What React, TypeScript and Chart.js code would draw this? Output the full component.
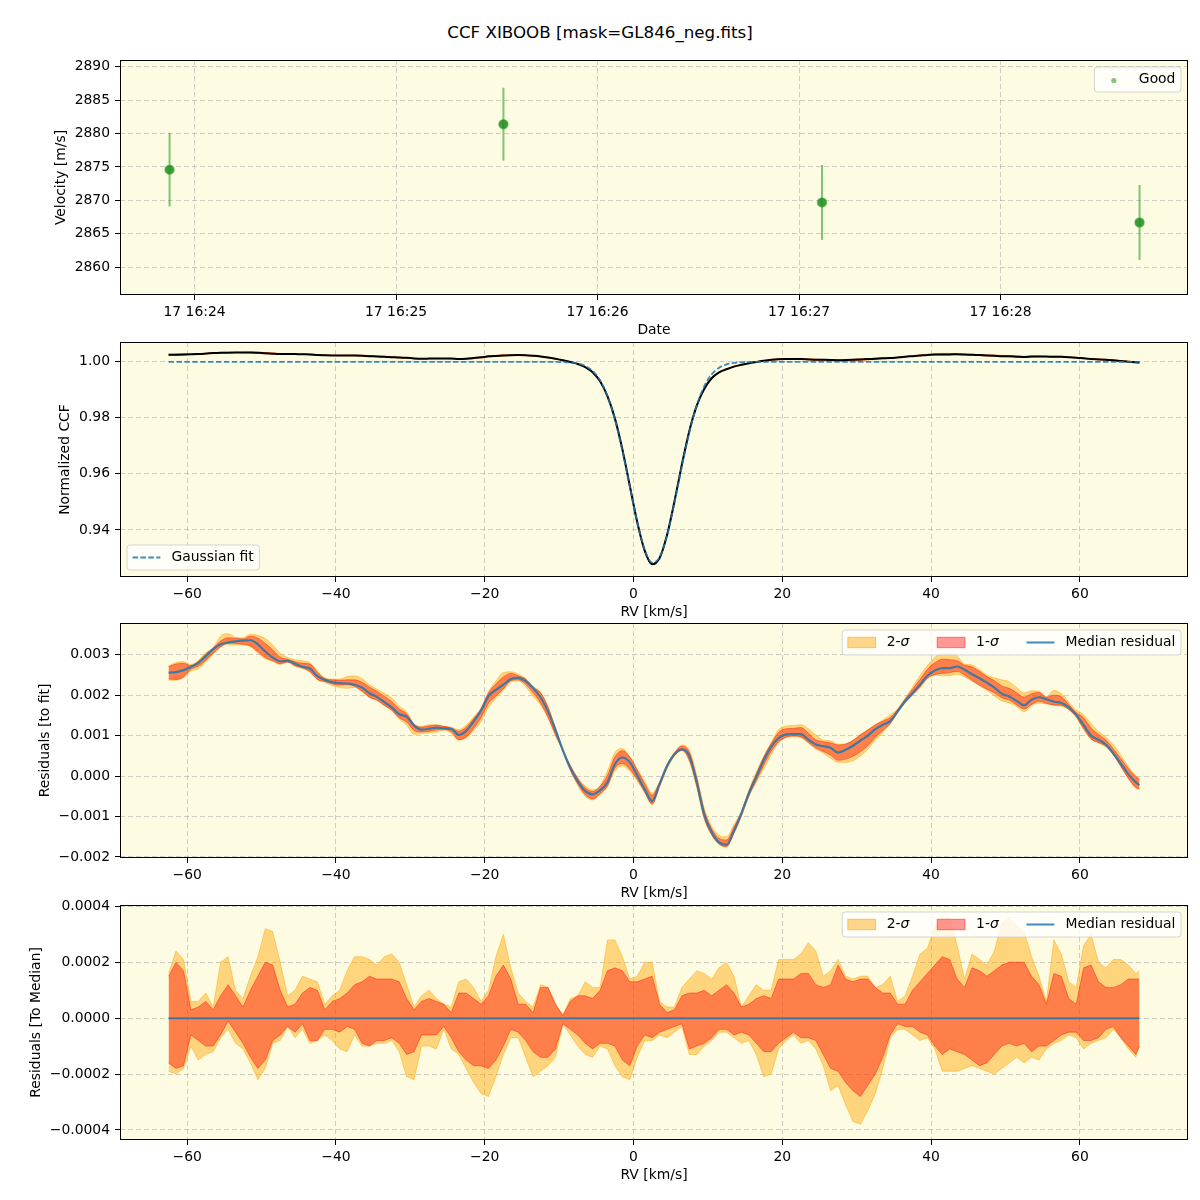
import React, { useEffect, useRef } from "react";
import { Chart, registerables } from "chart.js";

Chart.register(...registerables);

const FONT = "'DejaVu Sans', 'Liberation Sans', sans-serif";
const FS = 13.9;
Chart.defaults.font.family = FONT;
Chart.defaults.color = "#000";

// ---------- Panel 1: velocities ----------
const obsTimes = [23.876, 25.533, 27.114, 28.69]; // minutes after 16:00 on day 17
const obsVel = [2874.6, 2881.4, 2869.7, 2866.7];
const obsErr = [5.5, 5.45, 5.6, 5.6];
const timeTicks = [24, 25, 26, 27, 28];
const velTicks = [2860, 2865, 2870, 2875, 2880, 2885, 2890];

// ---------- RV grid ----------
const rv = [
  -62.5, -61.5, -60.5, -59.5, -58.5, -57.5, -56.5, -55.5, -54.5, -53.5,
  -52.5, -51.5, -50.5, -49.5, -48.5, -47.5, -46.5, -45.5, -44.5, -43.5,
  -42.5, -41.5, -40.5, -39.5, -38.5, -37.5, -36.5, -35.5, -34.5, -33.5,
  -32.5, -31.5, -30.5, -29.5, -28.5, -27.5, -26.5, -25.5, -24.5, -23.5,
  -22.5, -21.5, -20.5, -19.5, -18.5, -17.5, -16.5, -15.5, -14.5, -13.5,
  -12.5, -11.5, -10.5, -9.5, -8.5, -7.5, -6.5, -5.5, -4.5, -3.5,
  -2.5, -1.5, -0.5, 0.5, 1.5, 2.5, 3.5, 4.5, 5.5, 6.5,
  7.5, 8.5, 9.5, 10.5, 11.5, 12.5, 13.5, 14.5, 15.5, 16.5,
  17.5, 18.5, 19.5, 20.5, 21.5, 22.5, 23.5, 24.5, 25.5, 26.5,
  27.5, 28.5, 29.5, 30.5, 31.5, 32.5, 33.5, 34.5, 35.5, 36.5,
  37.5, 38.5, 39.5, 40.5, 41.5, 42.5, 43.5, 44.5, 45.5, 46.5,
  47.5, 48.5, 49.5, 50.5, 51.5, 52.5, 53.5, 54.5, 55.5, 56.5,
  57.5, 58.5, 59.5, 60.5, 61.5, 62.5, 63.5, 64.5, 65.5, 66.5,
  67.5, 68,
];

// Gaussian fit of the CCF
const gaussFit = [
  0.99975, 0.99975, 0.99975, 0.99975, 0.99975, 0.99975, 0.99975, 0.99975, 0.99975, 0.99975,
  0.99975, 0.99975, 0.99975, 0.99975, 0.99975, 0.99975, 0.99975, 0.99975, 0.99975, 0.99975,
  0.99975, 0.99975, 0.99975, 0.99975, 0.99975, 0.99975, 0.99975, 0.99975, 0.99975, 0.99975,
  0.99975, 0.99975, 0.99975, 0.99975, 0.99975, 0.99975, 0.99975, 0.99975, 0.99975, 0.99975,
  0.99975, 0.99975, 0.99975, 0.99975, 0.99975, 0.99975, 0.99975, 0.99975, 0.99975, 0.99975,
  0.99975, 0.99974, 0.99973, 0.99968, 0.99953, 0.99916, 0.99831, 0.99654, 0.99321, 0.98764,
  0.97929, 0.96819, 0.95533, 0.94273, 0.93297, 0.92841, 0.93022, 0.93793, 0.94961, 0.96264,
  0.9747, 0.98433, 0.99109, 0.99531, 0.99767, 0.99886, 0.99941, 0.99963, 0.99971, 0.99974,
  0.99975, 0.99975, 0.99975, 0.99975, 0.99975, 0.99975, 0.99975, 0.99975, 0.99975, 0.99975,
  0.99975, 0.99975, 0.99975, 0.99975, 0.99975, 0.99975, 0.99975, 0.99975, 0.99975, 0.99975,
  0.99975, 0.99975, 0.99975, 0.99975, 0.99975, 0.99975, 0.99975, 0.99975, 0.99975, 0.99975,
  0.99975, 0.99975, 0.99975, 0.99975, 0.99975, 0.99975, 0.99975, 0.99975, 0.99975, 0.99975,
  0.99975, 0.99975, 0.99975, 0.99975, 0.99975, 0.99975, 0.99975, 0.99975, 0.99975, 0.99975,
  0.99975, 0.99975,
];

// Median residual (CCF - fit)
const medianResid = [
  0.00256, 0.00257, 0.00262, 0.0027, 0.0028, 0.00296, 0.00314, 0.00326, 0.0033, 0.00333,
  0.00335, 0.00336, 0.00326, 0.00308, 0.00293, 0.00284, 0.00285, 0.00278, 0.0027, 0.00266,
  0.00247, 0.00238, 0.00232, 0.0023, 0.00229, 0.00226, 0.00219, 0.00205, 0.00196, 0.00183,
  0.0017, 0.00153, 0.00147, 0.00125, 0.00115, 0.00117, 0.0012, 0.00118, 0.00117, 0.00102,
  0.00112, 0.00135, 0.00162, 0.00198, 0.00213, 0.00226, 0.0024, 0.00243, 0.00235, 0.00218,
  0.00195, 0.0016, 0.00114, 0.00064, 0.0002, -0.00013, -0.00037, -0.00045, -0.00035, -0.00015,
  0.0003, 0.00046, 0.00034, 0.00002, -0.00033, -0.00062, -0.0002, 0.00025, 0.00054, 0.00066,
  0.0005, -0.00015, -0.00095, -0.00138, -0.00164, -0.0017, -0.00135, -0.00092, -0.00043, -0.00002,
  0.00039, 0.00073, 0.00094, 0.00103, 0.00104, 0.00104, 0.0009, 0.00078, 0.00074, 0.0007,
  0.00058, 0.00065, 0.00075, 0.00088, 0.001, 0.00116, 0.00127, 0.00136, 0.0016, 0.00185,
  0.00205, 0.00226, 0.00248, 0.00261, 0.00267, 0.00267, 0.00271, 0.00263, 0.00252, 0.00242,
  0.00231, 0.00219, 0.00204, 0.00197, 0.00186, 0.00175, 0.00189, 0.00195, 0.0019, 0.00184,
  0.00181, 0.0017, 0.00152, 0.00126, 0.001, 0.0009, 0.00078, 0.00056, 0.00031, 0.00005,
  -0.00015, -0.00022,
];

// Spread around the median (residual to median)
const sig2Hi = [
  0.00016, 0.00024, 0.00021, 0.00006, 0.00006, 0.00009, 0.00004, 0.0002, 0.00022, 0.0001,
  0.00007, 0.00015, 0.00022, 0.00032, 0.00031, 0.0002, 0.00008, 0.0001, 0.00015, 0.00014,
  0.00013, 0.00005, 0.00008, 0.0001, 0.00017, 0.00022, 0.00022, 0.00021, 0.00019, 0.00022,
  0.00023, 0.0002, 0.00012, 0.00004, 0.00008, 0.0001, 0.00007, 0.00005, 0.00004, 0.00013,
  0.00014, 0.00011, 0.00006, 0.0001, 0.00022, 0.0003, 0.00018, 0.00009, 0.00006, 0.00004,
  0.00012, 0.00011, 0.00005, 0.00001, 0.00007, 0.00008, 0.00013, 0.00011, 0.00011, 0.00028,
  0.00028, 0.00022, 0.00014, 0.00015, 0.0002, 0.0002, 0.00006, 0.00004, 0.00004, 0.00011,
  0.00014, 0.00017, 0.00016, 0.00014, 0.00018, 0.0002, 0.00015, 0.00004, 0.00008, 0.00012,
  0.0001, 0.0001, 0.00021, 0.00021, 0.00021, 0.00023, 0.00027, 0.00024, 0.00015, 0.00017,
  0.00021, 0.00015, 0.00014, 0.00015, 0.00015, 0.00011, 0.00012, 0.00015, 0.00006, 0.00008,
  0.00015, 0.00023, 0.00025, 0.00033, 0.00036, 0.00036, 0.00026, 0.00014, 0.00023, 0.00021,
  0.00019, 0.00024, 0.00034, 0.00036, 0.00033, 0.00031, 0.00022, 0.00015, 0.00006, 0.00028,
  0.00023, 0.00013, 0.00011, 0.00026, 0.0003, 0.0002, 0.00018, 0.00021, 0.00021, 0.00019,
  0.00016, 0.00017,
];
const sig1Hi = [
  0.00015, 0.0002, 0.00017, 0.00003, 0.00004, 0.00006, 0.00003, 0.00008, 0.00012, 0.00008,
  0.00004, 0.0001, 0.00015, 0.0002, 0.00019, 0.0001, 0.00004, 0.00005, 0.00009, 0.00011,
  0.0001, 0.00003, 0.00006, 0.00007, 0.00009, 0.00012, 0.00013, 0.00015, 0.00014, 0.00014,
  0.00014, 0.00013, 0.00007, 0.00003, 0.00006, 0.00007, 0.00006, 0.00005, 0.00002, 0.00009,
  0.00009, 0.00007, 0.00005, 0.00008, 0.00015, 0.00019, 0.00014, 0.00005, 0.00005, 0.00002,
  0.00011, 0.00011, 0.00005, 0.00001, 0.00006, 0.00008, 0.00008, 0.00007, 0.0001, 0.00017,
  0.00018, 0.00017, 0.00013, 0.00013, 0.00014, 0.00015, 0.00005, 0.00002, 0.00003, 0.00008,
  0.00009, 0.00009, 0.0001, 0.00008, 0.0001, 0.00012, 0.00009, 0.00004, 0.00005, 0.00007,
  0.00008, 0.00007, 0.00014, 0.00014, 0.00014, 0.00016, 0.00016, 0.00012, 0.00011, 0.00012,
  0.00019, 0.00014, 0.00013, 0.00014, 0.00014, 0.00011, 0.00009, 0.00009, 0.00005, 0.00005,
  0.0001, 0.00013, 0.00016, 0.00019, 0.00022, 0.00021, 0.00014, 0.00011, 0.00018, 0.00017,
  0.00015, 0.00017, 0.00019, 0.0002, 0.0002, 0.0002, 0.00015, 0.00012, 0.00005, 0.00016,
  0.00015, 0.00007, 0.00005, 0.00018, 0.00019, 0.00013, 0.00011, 0.00011, 0.00012, 0.00014,
  0.00014, 0.00014,
];
const sig1Lo = [
  -0.00016, -0.00018, -0.00017, -0.00006, -0.00008, -0.0001, -0.0001, -0.00006, -0.00001, -0.00005,
  -0.00009, -0.00014, -0.00018, -0.00015, -0.00008, -0.00006, -0.00003, -0.00005, -0.00002, -0.00008,
  -0.00008, -0.00004, -0.00004, -0.00005, -0.00003, -0.00004, -0.00009, -0.0001, -0.00008, -0.00008,
  -0.00007, -0.00009, -0.00013, -0.00012, -0.00006, -0.00006, -0.00006, -0.00003, -0.00007, -0.00012,
  -0.00015, -0.00017, -0.00017, -0.00018, -0.00015, -0.0001, -0.00004, -0.00005, -0.00008, -0.00012,
  -0.00014, -0.00014, -0.00011, -0.00002, -0.00004, -0.00006, -0.00009, -0.00011, -0.00009, -0.00009,
  -0.0001, -0.00015, -0.00017, -0.0001, -0.00006, -0.00007, -0.00005, -0.00004, -0.00003, -0.00002,
  -0.00011, -0.0001, -0.00009, -0.00007, -0.00004, -0.00004, -0.00006, -0.00005, -0.00006, -0.00009,
  -0.00012, -0.00012, -0.00009, -0.00007, -0.00005, -0.00007, -0.00007, -0.00008, -0.00013, -0.00018,
  -0.00019, -0.00023, -0.00026, -0.00028, -0.00024, -0.0002, -0.00014, -0.00006, -0.00002, -0.00003,
  -0.00003, -0.00005, -0.00006, -0.0001, -0.00013, -0.00011, -0.00012, -0.00013, -0.00015, -0.00017,
  -0.00016, -0.00013, -0.0001, -0.00009, -0.0001, -0.00009, -0.00012, -0.0001, -0.0001, -0.00008,
  -0.00006, -0.00005, -0.00005, -0.00008, -0.00008, -0.00007, -0.00004, -0.00003, -0.00007, -0.0001,
  -0.00013, -0.0001,
];
const sig2Lo = [
  -0.00019, -0.0002, -0.00018, -0.0001, -0.00015, -0.00013, -0.00012, -0.00007, -0.00004, -0.00009,
  -0.00011, -0.00016, -0.00022, -0.00018, -0.00009, -0.00008, -0.00003, -0.00007, -0.00004, -0.00009,
  -0.00008, -0.00006, -0.00008, -0.00011, -0.00012, -0.00006, -0.0001, -0.0001, -0.00009, -0.00009,
  -0.00008, -0.00012, -0.00021, -0.00022, -0.0001, -0.0001, -0.00011, -0.00004, -0.00011, -0.00013,
  -0.00018, -0.00023, -0.00027, -0.00028, -0.00021, -0.00013, -0.00007, -0.00007, -0.00014, -0.00021,
  -0.00019, -0.00017, -0.00014, -0.00002, -0.00006, -0.0001, -0.00013, -0.00014, -0.0001, -0.00011,
  -0.00017, -0.00021, -0.00022, -0.00014, -0.00008, -0.00008, -0.00006, -0.00007, -0.00005, -0.00003,
  -0.00013, -0.00013, -0.0001, -0.00008, -0.00005, -0.00005, -0.00007, -0.00009, -0.00008, -0.00013,
  -0.00021, -0.0002, -0.00011, -0.00008, -0.00006, -0.00009, -0.00008, -0.00011, -0.00017, -0.00026,
  -0.00024, -0.00031, -0.00037, -0.00038, -0.00033, -0.00027, -0.00018, -0.00007, -0.00004, -0.00004,
  -0.00006, -0.00008, -0.00007, -0.00011, -0.00019, -0.00019, -0.00019, -0.00018, -0.00017, -0.00018,
  -0.00019, -0.0002, -0.00018, -0.00016, -0.00014, -0.00016, -0.00014, -0.00015, -0.00011, -0.00009,
  -0.00008, -0.00006, -0.00007, -0.00011, -0.00009, -0.00008, -0.00007, -0.00004, -0.00007, -0.00011,
  -0.00014, -0.0001,
];

const rvTicks = [-60, -40, -20, 0, 20, 40, 60];
const ccfTicks = [0.94, 0.96, 0.98, 1.0];
const resTicks = [-0.002, -0.001, 0, 0.001, 0.002, 0.003];
const medTicks = [-0.0004, -0.0002, 0, 0.0002, 0.0004];

// ---------- styles ----------
const BG = "#fdfbe2";
const GRID = "rgba(150,150,150,0.45)";
const ORANGE = "rgba(255,165,0,0.45)";
const RED = "rgba(255,0,0,0.4)";
const BLUE = "rgba(31,119,180,0.85)";
const ERR_GREEN = "rgba(44,160,44,0.6)";

const minus = (s: string) => s.replace("-", "\u2212");

const titleFont = { family: FONT, size: FS, lineHeight: 1.2 };
const tickFont = { family: FONT, size: FS, lineHeight: "16px" };
const TOP_PAD = 13; // tick label half height (8) + tick padding (5)

function mkY(min: number, max: number, ticks: number[], fmt: (v: number) => string, title: string, titleCenterX: number) {
  return {
    type: "linear",
    position: "left",
    min,
    max,
    afterBuildTicks: (s: any) => {
      s.ticks = ticks.map((v) => ({ value: v }));
    },
    afterFit: (s: any) => {
      s.width = 120;
    },
    ticks: { callback: (v: any) => minus(fmt(Number(v))), font: tickFont, color: "#000", padding: 5 },
    grid: { color: GRID, lineWidth: 1, tickLength: 5, tickColor: "#000", tickWidth: 1, drawTicks: true },
    border: { display: false, dash: [5, 3] },
    title: {
      display: true,
      text: title,
      color: "#000",
      font: titleFont,
      padding: { top: titleCenterX - (FS * 1.2) / 2, bottom: 0 },
    },
  };
}

function mkX(min: number, max: number, ticks: number[], fmt: (v: number) => string, title: string) {
  return {
    type: "linear",
    position: "bottom",
    min,
    max,
    afterBuildTicks: (s: any) => {
      s.ticks = ticks.map((v) => ({ value: v }));
    },
    afterFit: (s: any) => {
      s.height = 45;
    },
    ticks: {
      callback: (v: any) => minus(fmt(Number(v))),
      font: tickFont,
      color: "#000",
      padding: 4,
      maxRotation: 0,
      autoSkip: false,
    },
    grid: { color: GRID, lineWidth: 1, tickLength: 5, tickColor: "#000", tickWidth: 1, drawTicks: true },
    border: { display: false, dash: [5, 3] },
    title: {
      display: true,
      text: title,
      color: "#000",
      font: titleFont,
      padding: { top: 0, bottom: 10 - (FS * 1.2) / 2 },
    },
  };
}

const bgFrame = {
  id: "bgFrame",
  beforeDraw(chart: any) {
    const { ctx, chartArea: a } = chart;
    ctx.save();
    ctx.fillStyle = BG;
    ctx.fillRect(a.left, a.top, a.right - a.left, a.bottom - a.top);
    ctx.restore();
  },
  afterDraw(chart: any) {
    const { ctx, chartArea: a } = chart;
    ctx.save();
    ctx.strokeStyle = "#000";
    ctx.lineWidth = 1;
    const l = Math.round(a.left) + 0.5;
    const t = Math.round(a.top) + 0.5;
    const r = Math.round(a.right) - 0.5;
    const b = Math.round(a.bottom) - 0.5;
    ctx.strokeRect(l, t, r - l, b - t);
    ctx.restore();
  },
};

type LegItem = { kind: "patch" | "line" | "dash" | "dot"; color: string; edge?: string; label: string; sigma?: boolean };

function makeLegend(items: LegItem[], anchor: "ur" | "ll") {
  return {
    id: "mplLegend",
    afterDraw(chart: any) {
      const { ctx, chartArea: a } = chart;
      const pad = 0.4 * FS;
      const hl = 2 * FS;
      const htp = 0.8 * FS;
      const cs = 2 * FS;
      const normal = `${FS}px ${FONT}`;
      const italic = `italic ${FS}px ${FONT}`;
      const widths = items.map((it) => {
        ctx.font = normal;
        let w = ctx.measureText(it.label).width;
        if (it.sigma) {
          ctx.font = italic;
          w += ctx.measureText("\u03c3").width;
        }
        return w;
      });
      let W = 2 * pad;
      widths.forEach((w, i) => {
        W += hl + htp + w + (i > 0 ? cs : 0);
      });
      const H = 25;
      const x0 = anchor === "ur" ? a.right - 7 - W : a.left + 7;
      const y0 = anchor === "ur" ? a.top + 7 : a.bottom - 7 - H;
      ctx.save();
      const r = 3;
      ctx.beginPath();
      ctx.moveTo(x0 + r, y0);
      ctx.lineTo(x0 + W - r, y0);
      ctx.quadraticCurveTo(x0 + W, y0, x0 + W, y0 + r);
      ctx.lineTo(x0 + W, y0 + H - r);
      ctx.quadraticCurveTo(x0 + W, y0 + H, x0 + W - r, y0 + H);
      ctx.lineTo(x0 + r, y0 + H);
      ctx.quadraticCurveTo(x0, y0 + H, x0, y0 + H - r);
      ctx.lineTo(x0, y0 + r);
      ctx.quadraticCurveTo(x0, y0, x0 + r, y0);
      ctx.closePath();
      ctx.fillStyle = "rgba(255,255,255,0.8)";
      ctx.fill();
      ctx.strokeStyle = "rgba(204,204,204,0.8)";
      ctx.lineWidth = 1;
      ctx.stroke();
      let cx = x0 + pad;
      const cy = y0 + H / 2;
      items.forEach((it, i) => {
        if (i > 0) cx += cs;
        if (it.kind === "patch") {
          ctx.fillStyle = it.color;
          ctx.fillRect(cx, cy - 5.2, hl, 10.4);
          ctx.strokeStyle = it.edge || it.color;
          ctx.lineWidth = 1;
          ctx.strokeRect(cx, cy - 5.2, hl, 10.4);
        } else if (it.kind === "line" || it.kind === "dash") {
          ctx.strokeStyle = it.color;
          ctx.lineWidth = it.kind === "line" ? 2 : 1.8;
          ctx.setLineDash(it.kind === "dash" ? [5.5, 2.4] : []);
          ctx.beginPath();
          ctx.moveTo(cx, cy);
          ctx.lineTo(cx + hl, cy);
          ctx.stroke();
          ctx.setLineDash([]);
        } else {
          ctx.fillStyle = it.color;
          ctx.beginPath();
          ctx.arc(cx + hl / 2, cy + 1, 2.6, 0, Math.PI * 2);
          ctx.fill();
        }
        let tx = cx + hl + htp;
        ctx.fillStyle = "#000";
        ctx.textBaseline = "middle";
        ctx.textAlign = "left";
        ctx.font = normal;
        ctx.fillText(it.label, tx, cy);
        if (it.sigma) {
          tx += ctx.measureText(it.label).width;
          ctx.font = italic;
          ctx.fillText("\u03c3", tx, cy);
        }
        cx += hl + htp + widths[i];
      });
      ctx.restore();
    },
  };
}

function baseOptions() {
  return {
    responsive: false,
    animation: false,
    devicePixelRatio: 1,
    layout: { padding: { left: 0, right: 12, top: 0, bottom: 0 } },
    elements: { point: { radius: 0, hoverRadius: 0 }, line: { tension: 0 } },
  };
}

const noPlug = { legend: { display: false }, tooltip: { enabled: false } };

function bandSets(base: number[], smooth: boolean) {
  const mk = (arr: number[]) => rv.map((x, i) => ({ x, y: base[i] + arr[i] }));
  const interp = smooth ? { cubicInterpolationMode: "monotone" } : {};
  return [
    { data: mk(sig2Hi), borderColor: ORANGE, backgroundColor: ORANGE, borderWidth: 1, pointRadius: 0, fill: "+1", order: 10, ...interp },
    { data: mk(sig2Lo), borderColor: ORANGE, backgroundColor: ORANGE, borderWidth: 1, pointRadius: 0, fill: false, order: 10, ...interp },
    { data: mk(sig1Hi), borderColor: RED, backgroundColor: RED, borderWidth: 1, pointRadius: 0, fill: "+1", order: 9, ...interp },
    { data: mk(sig1Lo), borderColor: RED, backgroundColor: RED, borderWidth: 1, pointRadius: 0, fill: false, order: 9, ...interp },
  ];
}

const sigmaLegend: LegItem[] = [
  { kind: "patch", color: ORANGE, edge: "rgba(255,165,0,0.6)", label: "2-", sigma: true },
  { kind: "patch", color: RED, edge: "rgba(255,0,0,0.45)", label: "1-", sigma: true },
  { kind: "line", color: BLUE, label: "Median residual" },
];

function config1(): any {
  return {
    type: "line",
    data: {
      datasets: [
        ...obsTimes.map((t, i) => ({
          data: [
            { x: t, y: obsVel[i] - obsErr[i] },
            { x: t, y: obsVel[i] + obsErr[i] },
          ],
          borderColor: ERR_GREEN,
          borderWidth: 2,
          pointRadius: 0,
          fill: false,
          order: 5,
        })),
        {
          data: obsTimes.map((t, i) => ({ x: t, y: obsVel[i] })),
          showLine: false,
          pointRadius: 4.5,
          pointHoverRadius: 4.5,
          pointBackgroundColor: "rgba(30,140,30,0.85)",
          pointBorderColor: "rgba(44,160,44,0.55)",
          pointBorderWidth: 1.5,
          order: 1,
        },
      ],
    },
    options: {
      ...baseOptions(),
      plugins: noPlug,
      scales: {
        x: mkX(23.63, 28.9305, timeTicks, (v) => `17 16:${v}`, "Date"),
        y: mkY(2855.85, 2891.0, velTicks, (v) => String(v), "Velocity [m/s]", 61),
      },
    },
    plugins: [bgFrame, makeLegend([{ kind: "dot", color: ERR_GREEN, label: "Good" }], "ur")],
  };
}

function config2(): any {
  const ccfBase = rv.map((_, i) => gaussFit[i] + medianResid[i]);
  return {
    type: "line",
    data: {
      datasets: [
        ...bandSets(ccfBase, true),
        {
          data: rv.map((x, i) => ({ x, y: ccfBase[i] })),
          borderColor: "#000",
          borderWidth: 2,
          pointRadius: 0,
          fill: false,
          order: 2,
          cubicInterpolationMode: "monotone",
        },
        {
          data: rv.map((x, i) => ({ x, y: gaussFit[i] })),
          borderColor: BLUE,
          borderWidth: 1.8,
          borderDash: [5.5, 2.4],
          pointRadius: 0,
          fill: false,
          order: 1,
          cubicInterpolationMode: "monotone",
        },
      ],
    },
    options: {
      ...baseOptions(),
      plugins: noPlug,
      scales: {
        x: mkX(-69.03, 74.53, rvTicks, (v) => String(v), "RV [km/s]"),
        y: mkY(0.92327, 1.00683, ccfTicks, (v) => v.toFixed(2), "Normalized CCF", 65.5),
      },
    },
    plugins: [bgFrame, makeLegend([{ kind: "dash", color: BLUE, label: "Gaussian fit" }], "ll")],
  };
}

function config3(): any {
  return {
    type: "line",
    data: {
      datasets: [
        ...bandSets(medianResid, true),
        {
          data: rv.map((x, i) => ({ x, y: medianResid[i] })),
          borderColor: BLUE,
          borderWidth: 2.2,
          pointRadius: 0,
          fill: false,
          order: 1,
          cubicInterpolationMode: "monotone",
        },
      ],
    },
    options: {
      ...baseOptions(),
      plugins: noPlug,
      scales: {
        x: mkX(-69.03, 74.53, rvTicks, (v) => String(v), "RV [km/s]"),
        y: mkY(-0.002025, 0.003786, resTicks, (v) => v.toFixed(3), "Residuals [to fit]", 45.8),
      },
    },
    plugins: [bgFrame, makeLegend(sigmaLegend, "ur")],
  };
}

function config4(): any {
  const zero = rv.map((_, i) => medianResid[i] - medianResid[i]);
  return {
    type: "line",
    data: {
      datasets: [
        ...bandSets(zero, false),
        { data: rv.map((x, i) => ({ x, y: zero[i] })), borderColor: BLUE, borderWidth: 2, pointRadius: 0, fill: false, order: 1 },
      ],
    },
    options: {
      ...baseOptions(),
      plugins: noPlug,
      scales: {
        x: mkX(-69.03, 74.53, rvTicks, (v) => String(v), "RV [km/s]"),
        y: mkY(-0.000436, 0.000405, medTicks, (v) => v.toFixed(4), "Residuals [To Median]", 36.8),
      },
    },
    plugins: [bgFrame, makeLegend(sigmaLegend, "ur")],
  };
}

function Panel({ areaTop, make }: { areaTop: number; make: () => any }) {
  const ref = useRef<HTMLCanvasElement | null>(null);
  const top = areaTop - TOP_PAD;
  const height = TOP_PAD + 235 + 45;
  useEffect(() => {
    if (!ref.current) return;
    const chart = new Chart(ref.current, make());
    return () => chart.destroy();
  }, []);
  return (
    <canvas
      ref={ref}
      width={1200}
      height={height}
      style={{ position: "absolute", left: 0, top, width: 1200, height, display: "block" }}
    />
  );
}

export default function App() {
  return (
    <div style={{ position: "absolute", left: 0, top: 0, width: 1200, height: 1200, background: "#fff", overflow: "hidden" }}>
      <div
        style={{
          position: "absolute",
          left: 0,
          top: 22,
          width: 1200,
          height: 20,
          lineHeight: "20px",
          textAlign: "center",
          fontFamily: FONT,
          fontSize: "16.7px",
          color: "#000",
        }}
      >
        CCF XIBOOB [mask=GL846_neg.fits]
      </div>
      <Panel areaTop={60} make={config1} />
      <Panel areaTop={342} make={config2} />
      <Panel areaTop={623} make={config3} />
      <Panel areaTop={905} make={config4} />
    </div>
  );
}
